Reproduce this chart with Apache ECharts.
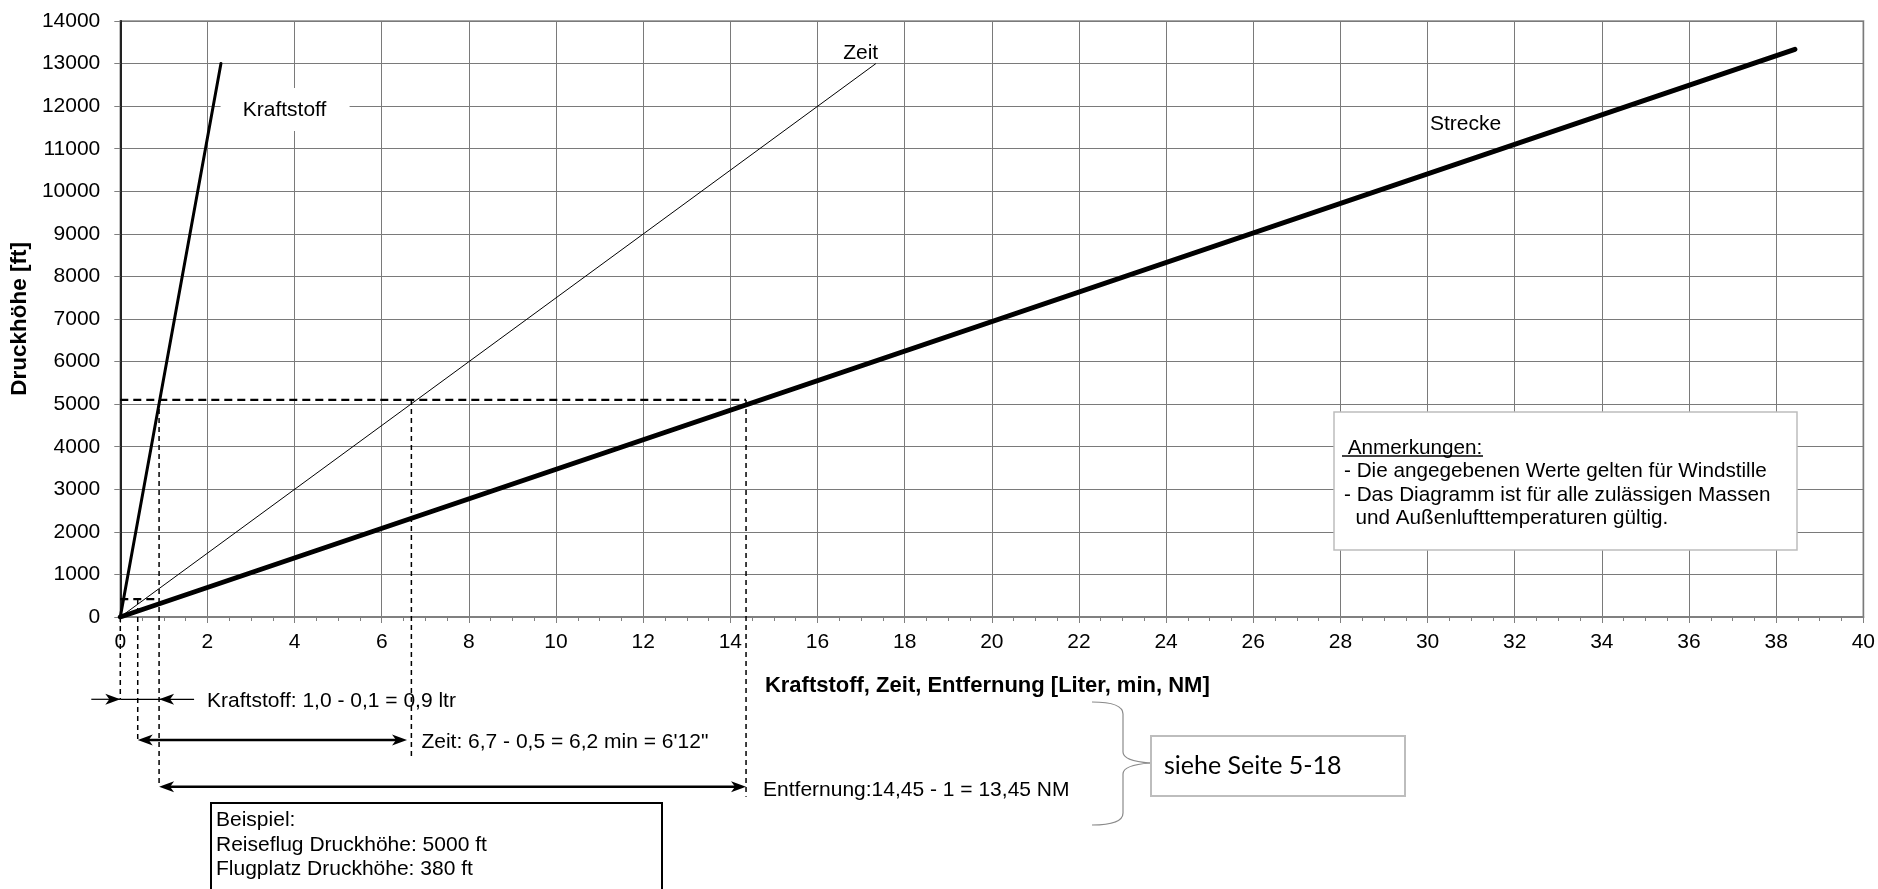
<!DOCTYPE html>
<html><head><meta charset="utf-8">
<script src="https://cdn.jsdelivr.net/npm/echarts@6/dist/echarts.min.js"></script>
<style>html,body{margin:0;padding:0;background:#fff}#c{width:1878px;height:889px}</style>
</head><body><div id="c"></div>
<script>
// ---- Data (x: Liter / min / NM, y: ft) ----
const kraftstoffX = [0, 2.31];
const kraftstoffY = [0, 13000];
const zeitX = [0, 17.34];
const zeitY = [0, 13000];
const streckeX = [0, 38.43];
const streckeY = [0, 13335];

// Reading example (dashed guides)
const cruiseAlt = 5100;          // ft
const fieldAlt = 420;            // ft
const fuelRead = [0, 0.89];      // Kraftstoff at field / cruise altitude
const timeRead = [0.4, 6.68];    // Zeit
const distRead = [0.89, 14.36];  // Entfernung

const seriesNames = ['Kraftstoff', 'Zeit', 'Strecke'];
const xTickStep = 2;
const yTickStep = 1000;

// ---- Layout (not data) ----
const FONT = 'Liberation Sans';
const FS = 21;
const rowFuel = -1933, rowTime = -2889, rowDist = -3986;   // rows below the axis, in ft units
const timeDashEnd = -3312, distDashEnd = -4221;
const labelAnchors = [[3.77, 11910], [16.99, 13250], [30.87, 11581]];

function pairs(xs, ys) { return xs.map((x, i) => [x, ys[i]]); }

function renderGuides(params, api) {
  const P = (x, y) => api.coord([x, y]);
  const ch = [];
  const dashH = {stroke: '#000', lineWidth: 2.4, lineDash: [8, 5]};
  const dashV = {stroke: '#000', lineWidth: 1.5, lineDash: [5, 4]};
  const seg = (a, b, style) => ch.push({type: 'line', shape: {x1: a[0], y1: a[1], x2: b[0], y2: b[1]}, style: style});
  const head = (tip, dir) => {
    const L = 15, W = 5.5, N = 4, tx = tip[0], ty = tip[1];
    ch.push({type: 'polygon', shape: {points: [[tx, ty], [tx - dir * L, ty - W], [tx - dir * (L - N), ty], [tx - dir * L, ty + W]]}, style: {fill: '#000'}});
  };
  const txt = (s, x, y) => ch.push({type: 'text', style: {text: s, x: x, y: y, fontSize: FS, fontFamily: FONT, fill: '#000', align: 'left', verticalAlign: 'middle'}});

  // horizontal dashed guides
  seg(P(0, cruiseAlt), P(distRead[1], cruiseAlt), dashH);
  seg(P(0, fieldAlt), P(fuelRead[1], fieldAlt), dashH);
  // vertical dashed guides
  seg(P(fuelRead[0], 0), P(fuelRead[0], rowFuel), dashV);
  seg(P(timeRead[0], fieldAlt), P(timeRead[0], rowTime), dashV);
  seg(P(fuelRead[1], cruiseAlt), P(fuelRead[1], rowDist), dashV);
  seg(P(timeRead[1], cruiseAlt), P(timeRead[1], timeDashEnd), dashV);
  seg(P(distRead[1], cruiseAlt), P(distRead[1], distDashEnd), dashV);

  // Kraftstoff dimension (outside arrows)
  const f0 = P(fuelRead[0], rowFuel), f1 = P(fuelRead[1], rowFuel);
  const thin = {stroke: '#000', lineWidth: 1.2};
  seg([f0[0] - 29, f0[1]], f0, thin); head(f0, 1);
  seg(f0, f1, thin);
  seg([f1[0] + 35, f1[1]], f1, thin); head(f1, -1);
  txt('Kraftstoff: 1,0 - 0,1 = 0,9 ltr', f1[0] + 48, f1[1] + 2);

  // Zeit dimension
  const thick = {stroke: '#000', lineWidth: 2.6};
  const t0 = P(timeRead[0], rowTime), t1 = P(timeRead[1] - 0.1, rowTime);
  seg([t0[0] + 8, t0[1]], [t1[0] - 8, t1[1]], thick); head(t0, -1); head(t1, 1);
  txt('Zeit: 6,7 - 0,5 = 6,2 min = 6\'12"', P(timeRead[1], rowTime)[0] + 10, t1[1] + 2);

  // Entfernung dimension
  const d0 = P(distRead[0], rowDist), d1 = P(distRead[1], rowDist);
  seg([d0[0] + 8, d0[1]], [d1[0] - 8, d1[1]], thick); head(d0, -1); head(d1, 1);
  txt('Entfernung:14,45 - 1 = 13,45 NM', d1[0] + 17, d1[1] + 4);

  // curve labels
  labelAnchors.forEach((a, i) => {
    const p = P(a[0], a[1]);
    if (i === 0) ch.push({type: 'rect', shape: {x: p[0] - 64, y: p[1] - 22, width: 129, height: 43}, style: {fill: '#fff'}});
    ch.push({type: 'text', style: {text: seriesNames[i], x: p[0], y: p[1], fontSize: FS, fontFamily: FONT, fill: '#000', align: 'center', verticalAlign: 'middle'}});
  });
  return {type: 'group', children: ch};
}

const chart = echarts.init(document.getElementById('c'), null, {renderer: 'canvas'});
const axisGray = '#808080';
const braceStyle = {fill: 'none', stroke: '#8a8a8a', lineWidth: 1.2};
const T = (text, x, y, extra) => Object.assign({type: 'text', z: 11, x: x, y: y, style: Object.assign({text: text, fontFamily: FONT, fontSize: FS, fill: '#000', verticalAlign: 'middle'}, extra || {})});
chart.setOption({
  animation: false,
  backgroundColor: '#fff',
  grid: {left: 119.5, top: 21, right: 14.5, bottom: 272, show: true, borderColor: '#a6a6a6', borderWidth: 2, backgroundColor: 'transparent'},
  xAxis: {
    type: 'value', min: 0, max: 40, interval: xTickStep,
    name: 'Kraftstoff, Zeit, Entfernung [Liter, min, NM]', nameLocation: 'middle', nameGap: 58,
    nameTextStyle: {fontFamily: FONT, fontSize: 22, fontWeight: 'bold', color: '#000', padding: [0, 9, 0, 0]},
    axisLine: {show: true, lineStyle: {color: axisGray, width: 2}},
    axisTick: {show: true, length: 6, lineStyle: {color: axisGray, width: 1}},
    minorTick: {show: true, splitNumber: 4, length: 4, lineStyle: {color: axisGray, width: 1}},
    splitLine: {show: true, lineStyle: {color: '#7a7a7a', width: 1}},
    axisLabel: {fontFamily: FONT, fontSize: FS, color: '#000', margin: 15, formatter: v => String(v)}
  },
  yAxis: {
    type: 'value', min: 0, max: 14000, interval: yTickStep,
    name: 'Druckhöhe [ft]', nameLocation: 'middle', nameGap: 83, nameRotate: 90,
    nameTextStyle: {fontFamily: FONT, fontSize: 22.5, fontWeight: 'bold', color: '#000'},
    axisLine: {show: true, lineStyle: {color: '#222', width: 2}},
    axisTick: {show: true, length: 6, lineStyle: {color: axisGray, width: 1}},
    splitLine: {show: true, lineStyle: {color: '#7a7a7a', width: 1}},
    axisLabel: {fontFamily: FONT, fontSize: FS, color: '#000', margin: 20, formatter: v => String(v)}
  },
  series: [
    {name: seriesNames[0], type: 'line', data: pairs(kraftstoffX, kraftstoffY), showSymbol: false, symbol: 'none', lineStyle: {color: '#000', width: 3, cap: 'round'}, z: 3, silent: true},
    {name: seriesNames[1], type: 'line', data: pairs(zeitX, zeitY), showSymbol: false, symbol: 'none', lineStyle: {color: '#000', width: 1}, z: 3, silent: true},
    {name: seriesNames[2], type: 'line', data: pairs(streckeX, streckeY), showSymbol: false, symbol: 'none', lineStyle: {color: '#000', width: 5, cap: 'round'}, z: 3, silent: true},
    {type: 'custom', data: [[0, 0]], renderItem: renderGuides, clip: false, z: 4, silent: true}
  ],
  graphic: [
    // Anmerkungen box
    {type: 'rect', z: 10, shape: {x: 1334, y: 412, width: 463, height: 138}, style: {fill: '#fff', stroke: '#bdbdbd', lineWidth: 1.5}},
    T(' Anmerkungen:', 1342, 448, {fontSize: 20.7}),
    {type: 'line', z: 11, shape: {x1: 1342, y1: 456, x2: 1483, y2: 456}, style: {stroke: '#000', lineWidth: 1.5}},
    T('- Die angegebenen Werte gelten für Windstille', 1344, 471.7, {fontSize: 20.7}),
    T('- Das Diagramm ist für alle zulässigen Massen', 1344, 495, {fontSize: 20.7}),
    T('  und Außenlufttemperaturen gültig.', 1344, 518.3, {fontSize: 20.7}),
    // Beispiel box
    {type: 'rect', z: 10, shape: {x: 211, y: 803, width: 451, height: 120}, style: {fill: '#fff', stroke: '#000', lineWidth: 2}},
    T('Beispiel:', 216, 820),
    T('Reiseflug Druckhöhe: 5000 ft', 216, 845.7),
    T('Flugplatz Druckhöhe: 380 ft', 216, 869),
    // brace + reference box
    {type: 'bezierCurve', z: 10, shape: {x1: 1092, y1: 702, cpx1: 1123, cpy1: 702, x2: 1123, y2: 714}, style: braceStyle},
    {type: 'line', z: 10, shape: {x1: 1123, y1: 714, x2: 1123, y2: 752}, style: braceStyle},
    {type: 'bezierCurve', z: 10, shape: {x1: 1123, y1: 752, cpx1: 1123, cpy1: 761, x2: 1150, y2: 763}, style: braceStyle},
    {type: 'bezierCurve', z: 10, shape: {x1: 1150, y1: 763, cpx1: 1123, cpy1: 765, x2: 1123, y2: 774}, style: braceStyle},
    {type: 'line', z: 10, shape: {x1: 1123, y1: 774, x2: 1123, y2: 813}, style: braceStyle},
    {type: 'bezierCurve', z: 10, shape: {x1: 1123, y1: 813, cpx1: 1123, cpy1: 825, x2: 1092, y2: 825}, style: braceStyle},
    {type: 'rect', z: 10, shape: {x: 1151, y: 736, width: 254, height: 60}, style: {fill: '#fff', stroke: '#bdbdbd', lineWidth: 2}},
    T('siehe Seite 5-18', 1164, 766, {fontFamily: 'Lato', fontSize: 25})
  ]
});
</script></body></html>
